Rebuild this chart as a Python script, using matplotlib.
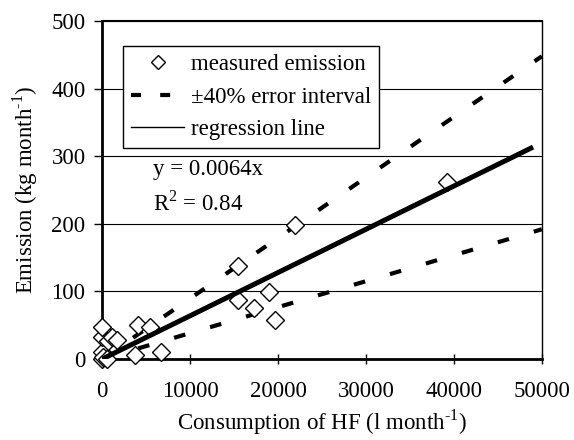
import matplotlib
matplotlib.use('Agg')
import matplotlib.pyplot as plt
from matplotlib.lines import Line2D
import numpy as np

# measured points
hf_consumption = [0, 0, 100, 500, 0, 700, 1100, 1700, 0, 3700, 4100, 5400, 6700,
                  15500, 15500, 17300, 19000, 19700, 21900, 39200]
emission = [0, 11, 3, 0, 33, 26, 33, 28, 48, 6, 50, 47, 10,
            137, 88, 75, 99, 58, 198, 262]

slope = 0.0064
r_squared = 0.84
error_band = 0.40
reg_x = [0, 49000]
band_x = [0, 50000]

plt.rcParams['font.family'] = ['Liberation Serif', 'DejaVu Serif']
plt.rcParams['mathtext.fontset'] = 'custom'
plt.rcParams['mathtext.rm'] = 'Liberation Serif'
plt.rcParams['font.size'] = 16.5

fig = plt.figure(figsize=(5.74, 4.4), dpi=100)
ax = fig.add_axes([0.178, 0.184, 0.766, 0.768])

# +/-40% band, measured points, then the regression line on top
dash = (0, (2.8, 6.2))
bx = np.array(band_x)
ax.plot(bx, slope * (1 + error_band) * bx, color='black', lw=3, ls=dash,
        dash_capstyle='butt', zorder=2, clip_on=False)
ax.plot(bx, slope * (1 - error_band) * bx, color='black', lw=3, ls=dash,
        dash_capstyle='butt', zorder=2, clip_on=False)
ax.plot(hf_consumption, emission, ls='none', marker='D', ms=9, mfc='white',
        mec='black', mew=1, zorder=3, clip_on=False)
rx = np.array(reg_x)
ax.plot(rx, slope * rx, color='black', lw=3.6, solid_capstyle='butt', zorder=4)

ax.set_xlim(0, 50000)
ax.set_ylim(0, 500)
ax.set_xticks(range(0, 50001, 10000))
ax.set_yticks(range(0, 501, 100))
ax.yaxis.grid(True, color='black', lw=0.8)
ax.set_axisbelow(True)

ax.spines['left'].set_linewidth(2)
ax.spines['bottom'].set_linewidth(2)
ax.spines['top'].set_linewidth(1.5)
ax.spines['right'].set_linewidth(1)
ax.tick_params(axis='x', direction='inout', length=7, width=1, pad=12)
ax.tick_params(axis='y', direction='out', length=6, width=1, pad=6)

# U+2010 keeps the short hyphen in the superscript
ax.set_xlabel('Consumption of HF (l month$^{\\mathregular{\u20101}}$)', labelpad=4)
ax.set_ylabel('Emission (kg month$^{\\mathregular{\u20101}}$)', labelpad=8)

ax.text(5800, 280, 'y = %.4fx' % slope, va='center', ha='left')
ax.text(5800, 231, 'R$^{\\mathregular{2}}$ = %.2f' % r_squared, va='center', ha='left')

handles = [
    Line2D([], [], ls='none', marker='D', ms=7, mfc='white', mec='black', mew=1),
    Line2D([], [], color='black', lw=3, ls=(0, (2.4, 4.6)), dash_capstyle='butt'),
    Line2D([], [], color='black', lw=1),
]
labels = ['measured emission', '\u00b140% error interval', 'regression line']
leg = ax.legend(handles, labels, loc='upper left', bbox_to_anchor=(0.048, 0.926),
                borderaxespad=0, fancybox=False, framealpha=1, edgecolor='black',
                handlelength=2.3, handletextpad=0.3, labelspacing=0.5,
                borderpad=0.35)
leg.get_frame().set_linewidth(1)

fig.savefig('out.png', dpi=100)
